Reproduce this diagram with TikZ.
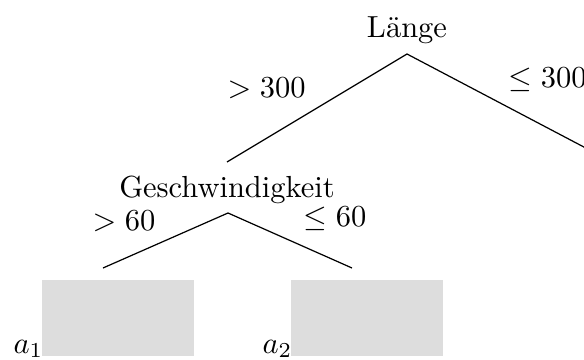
\documentclass[tikz,border=0pt]{standalone}
\definecolor{leafgray}{HTML}{DDDDDD}
\begin{document}
\begin{tikzpicture}[x=0.328pt,y=-0.328pt,
  lbl/.style={inner sep=0pt,anchor=base west},
  ttl/.style={inner sep=0pt,anchor=base},
  edge/.style={draw=black,line width=0.4pt},
  leaf/.style={fill=leafgray,draw=none,inner sep=0pt,minimum width=49.86pt,minimum height=24.93pt}]
\useasboundingbox (0,0) rectangle (584,360);
% root
\node[ttl] (laenge) at (407,37) {Länge};
\coordinate (r) at (407,54);
\coordinate (rl) at (227,162);
\coordinate (rr) at (600,155.5);
\draw[edge] (rl) -- (r) -- (rr);
\node[lbl] (g300) at (227,97) {$> 300$};
\node[lbl] (l300) at (508,87) {$\leq 300$};
% speed
\node[ttl] (speed) at (227,197) {Geschwindigkeit};
\coordinate (s) at (228,213);
\coordinate (sl) at (103,268);
\coordinate (sr) at (352,268);
\draw[edge] (sl) -- (s) -- (sr);
\node[lbl] (g60) at (92,230) {$> 60$};
\node[lbl] (l60) at (303,227) {$\leq 60$};
% leaves
\node[leaf] (leaf1) at (118,318) {};
\node[leaf] (leaf2) at (367,318) {};
\node[lbl] (a1) at (13,353) {$a_1$};
\node[lbl] (a2) at (262,353) {$a_2$};
\end{tikzpicture}
\end{document}
